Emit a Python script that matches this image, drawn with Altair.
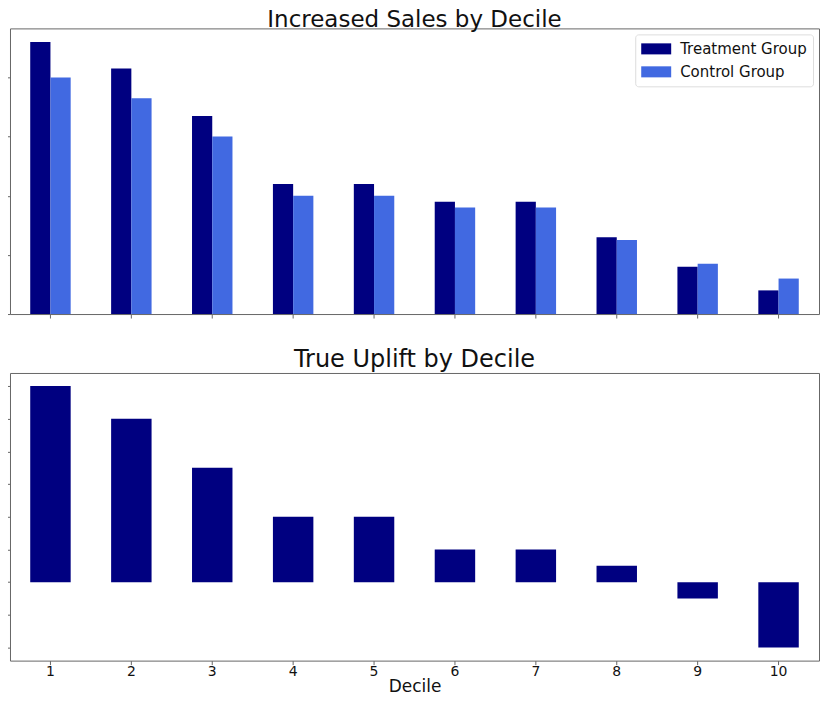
import altair as alt
import pandas as pd

deciles = [1, 2, 3, 4, 5, 6, 7, 8, 9, 10]
treatment = [4.6, 4.15, 3.35, 2.2, 2.2, 1.9, 1.9, 1.3, 0.8, 0.4]
control = [4.0, 3.65, 3.0, 2.0, 2.0, 1.8, 1.8, 1.25, 0.85, 0.6]
uplift = [0.6, 0.5, 0.35, 0.2, 0.2, 0.1, 0.1, 0.05, -0.05, -0.2]
groups = ["Treatment Group", "Control Group"]
colors = ["#000080", "#4169E1"]

FONT = "DejaVu Sans"

sales = pd.DataFrame(
    [{"Decile": d, "Group": groups[0], "Value": t} for d, t in zip(deciles, treatment)]
    + [{"Decile": d, "Group": groups[1], "Value": c} for d, c in zip(deciles, control)]
)
upl = pd.DataFrame({"Decile": deciles, "Uplift": uplift})

W = 810
xscale = alt.Scale(paddingInner=0.5, paddingOuter=0.25)

top = alt.Chart(sales, title=alt.Title("Increased Sales by Decile", fontSize=23, font=FONT,
                                       fontWeight="normal", offset=-4)).mark_bar().encode(
    x=alt.X("Decile:O", scale=xscale,
            axis=alt.Axis(labels=False, title=None, tickSize=4, domain=False, tickColor="#666")),
    xOffset=alt.XOffset("Group:N", sort=groups, scale=alt.Scale(paddingInner=0, paddingOuter=0)),
    y=alt.Y("Value:Q", scale=alt.Scale(domain=[0, 4.83], nice=False, zero=False),
            axis=alt.Axis(values=[0, 1, 2, 3, 4], labels=False, title=None, grid=False,
                          tickSize=4, domain=False, tickColor="#666")),
    color=alt.Color("Group:N", sort=groups,
                    scale=alt.Scale(domain=groups, range=colors),
                    legend=alt.Legend(title=None, orient="top-right", offset=6,
                                      labelFont=FONT, labelFontSize=15, labelColor="#111",
                                      symbolType="M-1,-0.65H2.53V0.65H-1Z",
                                      symbolSize=289, symbolStrokeWidth=0, symbolOpacity=1,
                                      rowPadding=6, labelOffset=22, padding=6,
                                      fillColor="white", strokeColor="#dddddd", cornerRadius=3)),
).properties(width=W, height=286)

bottom = alt.Chart(upl, title=alt.Title("True Uplift by Decile", fontSize=24, font=FONT,
                                        fontWeight="normal", offset=1)).mark_bar(color="#000080").encode(
    x=alt.X("Decile:O", scale=xscale,
            axis=alt.Axis(labelAngle=0, title="Decile", labelFont=FONT, labelFontSize=14,
                          labelColor="#111", titleFont=FONT, titleFontSize=17,
                          titleFontWeight="normal", titleColor="#111", titlePadding=0,
                          tickSize=4, domain=False, tickColor="#666", labelPadding=0)),
    y=alt.Y("Uplift:Q", scale=alt.Scale(domain=[-0.24, 0.64], nice=False, zero=False),
            axis=alt.Axis(values=[-0.2, -0.1, 0, 0.1, 0.2, 0.3, 0.4, 0.5, 0.6], labels=False,
                          title=None, grid=False, tickSize=4, domain=False, tickColor="#666")),
).properties(width=W, height=288)

chart = alt.vconcat(top, bottom, spacing=28).properties(
    padding={"left": -3, "top": 0, "right": 0, "bottom": -4}
).configure_view(stroke="#666", strokeWidth=1).configure_title(color="#111")

chart.save("out.html", embed_options={"renderer": "svg", "actions": False})
